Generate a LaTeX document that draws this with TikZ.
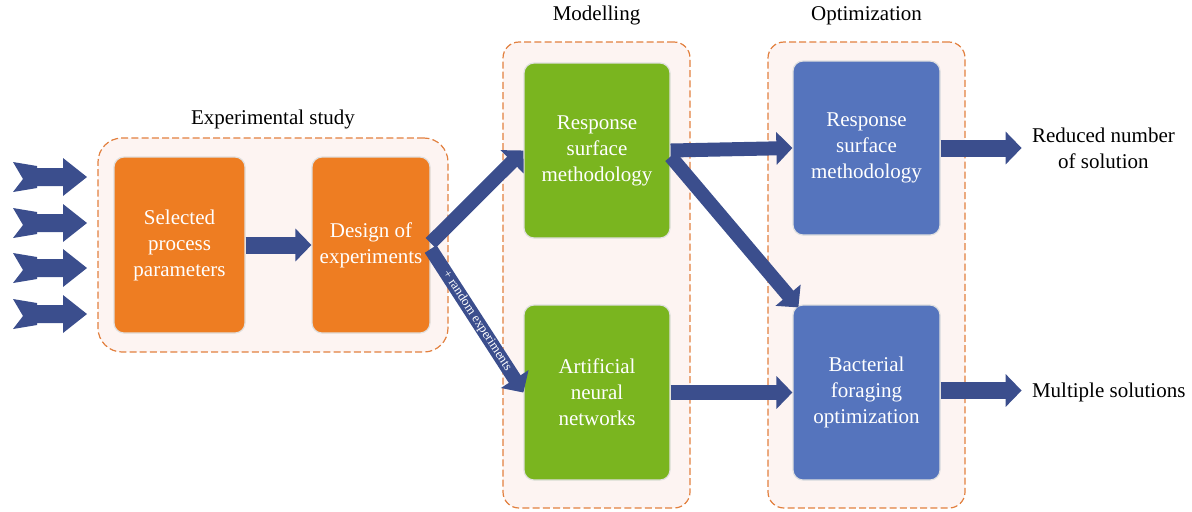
\documentclass[tikz,border=0pt]{standalone}
\usepackage{fontspec}
\setmainfont{LiberationSerif}[Extension=.ttf, UprightFont=*-Regular, BoldFont=*-Bold, ItalicFont=*-Italic]
\usepackage{tikz}
\usetikzlibrary{arrows.meta,positioning}
\definecolor{doeorange}{HTML}{EE7D22}
\definecolor{modgreen}{HTML}{7AB51F}
\definecolor{optblue}{HTML}{5574BD}
\definecolor{arrowblue}{HTML}{3B4E8D}
\definecolor{frameorange}{HTML}{E2803F}
\definecolor{framefill}{HTML}{FDF4F2}
\newcommand\mainfs{\fontsize{10.5}{13}\selectfont}
\newcommand\tinyfs{\fontsize{6.5}{7.5}\selectfont}
\tikzset{
  stagebox/.style={
    rectangle, rounded corners=5pt, draw=black!12, fill=#1, line width=0.6pt,
    text=white, font=\mainfs, align=center, inner sep=2pt
  },
  stagebox/.default=doeorange,
  phaseframe/.style={
    rectangle, rounded corners=#1, draw=frameorange, fill=framefill,
    dash pattern=on 3.5pt off 1.6pt, line width=0.6pt, inner sep=0pt
  },
  phaseframe/.default=8pt,
  blockarrow/.style={
    draw=arrowblue, line width=#1, -{Triangle[length=8pt, width=16pt]}
  },
  blockarrow/.default=8.5pt,
  phaselabel/.style={font=\mainfs, inner sep=2pt},
  outlabel/.style={font=\mainfs, align=center, inner ysep=2pt, inner xsep=5pt},
}

\begin{document}
\begin{tikzpicture}[x=0.5pt, y=-0.5pt]
\useasboundingbox (0,0) rectangle (1192,511);

% FRAMES: experimental study, modelling, optimization
\node[phaseframe=12pt, minimum width=175pt, minimum height=107pt] (expframe) at (273,245) {};
\node[phaseframe, minimum width=93.5pt, minimum height=233pt] (modframe) at (596.5,275) {};
\node[phaseframe, minimum width=98.5pt, minimum height=233pt] (optframe) at (866.5,275) {};

\node[phaselabel, above=2.2pt of expframe] (explabel) {Experimental study};
\node[phaselabel, above=5.8pt of modframe] (modlabel) {Modelling};
\node[phaselabel, above=5.8pt of optframe] (optlabel) {Optimization};

% Input arrows (notched tails)
\foreach \y in {177,223,268,314}
  \fill[arrowblue, shift={(0,\y)}] (13,-15) -- (37,-11) -- (37,-9) -- (63,-9) -- (63,-19)
    -- (87,0) -- (63,19) -- (63,9) -- (37,9) -- (37,11) -- (13,15) -- (23,2) -- cycle;

% Experimental study
\node[stagebox, minimum width=65.5pt, minimum height=88pt] (params) at (179.5,245) {Selected\\process\\parameters};
\node[stagebox, minimum width=59pt, minimum height=88pt] (doe) at (371,245) {Design of\\experiments};

% Modelling
\node[stagebox=modgreen, minimum width=73pt, minimum height=87.5pt] (rsm) at (597,150.5) {Response\\surface\\methodology};
\node[stagebox=modgreen, minimum width=73pt, minimum height=87.5pt] (ann) at (597,392.5) {Artificial\\neural\\networks};

% Optimization
\node[stagebox=optblue, minimum width=73.5pt, minimum height=87pt] (rsmopt) at (866.5,148) {Response\\surface\\methodology};
\node[stagebox=optblue, minimum width=73.5pt, minimum height=87.5pt] (bfo) at (866.5,392.5) {Bacterial\\foraging\\optimization};

% Outputs
\node[outlabel, right=0pt of rsmopt.east, xshift=40.5pt] (reduced) {Reduced number\\of solution};
\node[outlabel, right=0pt of bfo.east, xshift=40.5pt] (multiple) {Multiple solutions};

% Flow
\draw[blockarrow] (params.east) -- (doe.west);
\draw[blockarrow=7pt] ([yshift=1pt]doe.east) -- (rsm.west);
\draw[blockarrow=7pt] ([yshift=-2pt]doe.east) -- node[sloped, font=\tinyfs, text=white, inner sep=0pt] {+ random experiments} (ann.west);
\draw[blockarrow=7pt] (rsm.east) -- (rsmopt.west);
\draw[blockarrow=7pt] ([yshift=-3pt]rsm.east) -- ([xshift=3pt, yshift=-1.5pt]bfo.north west);
\draw[blockarrow=7.5pt] (ann.east) -- (bfo.west);
\draw[blockarrow] (rsmopt.east) -- (reduced.west);
\draw[blockarrow] ([yshift=1pt]bfo.east) -- ([yshift=1pt]multiple.west);

\end{tikzpicture}
\end{document}
